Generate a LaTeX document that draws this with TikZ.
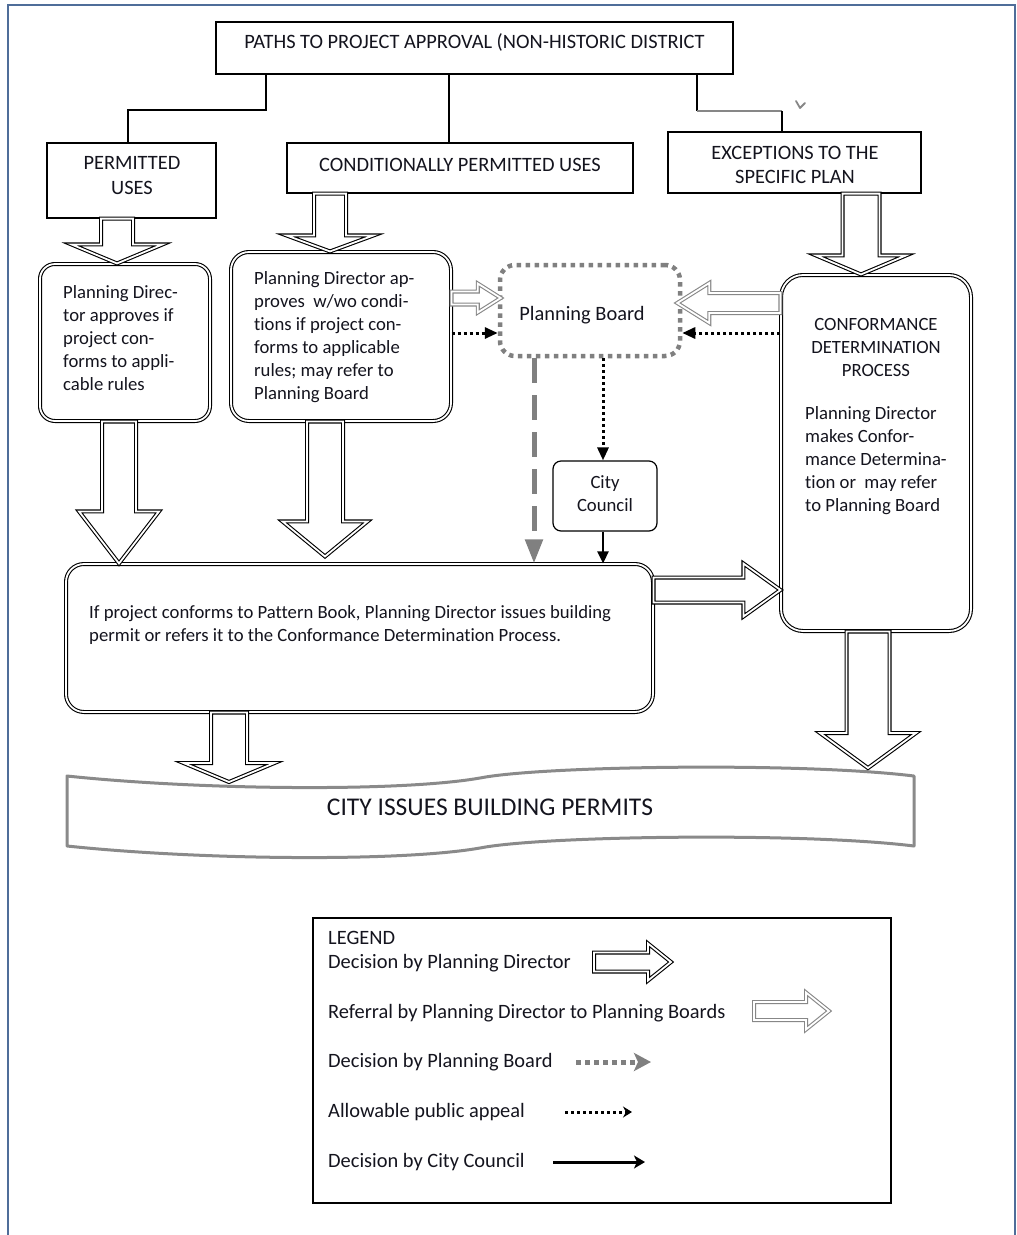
\documentclass[tikz,border=0pt]{standalone}
\usepackage{fontspec}
\setmainfont{Carlito}[Ligatures=NoCommon]
\usetikzlibrary{calc,arrows.meta}
\definecolor{framec}{RGB}{79,109,153}
\definecolor{pbgray}{RGB}{128,128,128}
\definecolor{refgray}{RGB}{135,135,135}
\definecolor{bangray}{RGB}{138,138,138}
\definecolor{txt}{RGB}{20,20,30}
\newcommand\fbody{\fontsize{18.7pt}{23pt}\selectfont}
\newcommand\fcap{\fontsize{20.4pt}{24.5pt}\selectfont}
\newcommand\fban{\fontsize{25.5pt}{30pt}\selectfont}
% vertical block arrow: style, start, tip, shaft half, head half, signed head length
\newcommand\barrowv[6]{\path[#1] let \p1=#2, \p2=#3 in
 (\x2-#4pt,\y1) -- (\x2-#4pt,\y2+#6pt) -- (\x2-#5pt,\y2+#6pt) -- (\x2,\y2) -- (\x2+#5pt,\y2+#6pt) -- (\x2+#4pt,\y2+#6pt) -- (\x2+#4pt,\y1) -- cycle;}
% horizontal block arrow: style, start, tip, shaft half, head half, signed head length (+ = right)
\newcommand\barrowh[6]{\path[#1] let \p1=#2, \p2=#3 in
 (\x1,\y2+#4pt) -- (\x2-#6*1pt,\y2+#4pt) -- (\x2-#6*1pt,\y2+#5pt) -- (\x2,\y2) -- (\x2-#6*1pt,\y2-#5pt) -- (\x2-#6*1pt,\y2-#4pt) -- (\x1,\y2-#4pt) -- cycle;}
\begin{document}
\begin{tikzpicture}[x=1pt,y=-1pt,
  every node/.style={inner sep=0pt, text=txt},
  sq/.style={draw=black, line width=1.2pt, fill=white},
  conn/.style={draw=black, line width=1.2pt},
  dbl/.style={draw=black, line width=1.1pt, double=white, double distance=1.8pt},
  dblbox/.style={dbl, fill=white},
  barrow/.style={dbl, fill=white, line join=miter, miter limit=10},
  garrow/.style={draw=refgray, line width=1.1pt, double=white, double distance=1.8pt, fill=white, line join=miter, miter limit=10},
  pbbox/.style={draw=pbgray, line width=4.5pt, dash pattern=on 4.5pt off 4.5pt, rounded corners=15pt},
  appeal/.style={draw=black, line width=3pt, dash pattern=on 3pt off 3pt, -{Triangle[length=13pt,width=11pt]}},
  pbdec/.style={draw=pbgray, line width=5pt, dash pattern=on 25pt off 12pt, -{Triangle[length=24pt,width=17pt]}},
  ccdec/.style={draw=black, line width=2.5pt, -{Triangle[length=12pt,width=11pt]}},
  lt/.style={font=\fcap, anchor=west}
]
\useasboundingbox (0,0) rectangle (1017,1235);
% outer frame
\draw[framec, line width=1.5pt] (8,1240) -- (8,5) -- (1015,5) -- (1015,1240);

% header boxes
\node[sq, minimum width=517pt, minimum height=52pt] (title) at (474.5,48) {};
\node[sq, minimum width=169pt, minimum height=75pt] (pu) at (131.5,180.5) {};
\node[sq, minimum width=346pt, minimum height=50pt] (cpu) at (460,168) {};
\node[sq, minimum width=253pt, minimum height=61pt] (exc) at (794.5,162.5) {};

% title connectors
\coordinate (k1) at (266,110);
\coordinate (k2) at (128,110);
\coordinate (k3) at (449,0);
\coordinate (k4) at (697,111);
\coordinate (k5) at (782,111);
\draw[conn] (title.south -| k1) -- (k1) -- (k2) -- (k2 |- pu.north);
\draw[conn] (title.south -| k3) -- (cpu.north -| k3);
\draw[conn] (title.south -| k4) -- (k4);
\draw[conn, draw=refgray] (k4) -- (k5);
\draw[conn] (k5) -- (k5 |- exc.north);
\draw[refgray, line width=1.8pt, line cap=round, line join=round] (796,101) -- (800,108) -- (805,103);

% main boxes
\node[dblbox, rounded corners=15pt, minimum width=170pt, minimum height=157pt] (pd1) at (125,342.5) {};
\node[dblbox, rounded corners=18pt, minimum width=220pt, minimum height=169pt] (pd2) at (341,336.5) {};
\node[pbbox, minimum width=180pt, minimum height=91pt] (pb) at (590,310.5) {};
\node[sq, rounded corners=8pt, minimum width=104pt, minimum height=70pt] (cc) at (605,496) {};
\node[dblbox, rounded corners=18pt, minimum width=587pt, minimum height=148pt] (big) at (359.5,638) {};
\node[dblbox, rounded corners=22pt, minimum width=190pt, minimum height=356pt] (cdp) at (876,453) {};

% banner
\draw[bangray, line width=3pt, fill=white, line join=round]
  (67,776) .. controls (200,790) and (400,792) .. (480,778)
  .. controls (540,766) and (800,762) .. (914,776) -- (914,846)
  .. controls (800,832) and (540,836) .. (480,848)
  .. controls (400,862) and (200,860) .. (67,846) -- cycle;
\coordinate (ban1) at (229,782);
\coordinate (ban2) at (868,768);

% block arrows (decision by planning director)
\coordinate (a1s) at ([xshift=-14.5pt]pu.south);
\coordinate (a1t) at (a1s |- pd1.north);
\barrowv{barrow}{(a1s)}{(a1t)}{16}{45.5}{19}
\coordinate (a2s) at ([xshift=-130pt]cpu.south);
\coordinate (a2t) at (a2s |- pd2.north);
\barrowv{barrow}{(a2s)}{(a2t)}{16}{43.5}{16}
\coordinate (a3s) at ([xshift=66.5pt]exc.south);
\coordinate (a3t) at (a3s |- cdp.north);
\barrowv{barrow}{(a3s)}{(a3t)}{18.5}{45}{19}
\coordinate (a4s) at ([xshift=-6pt]pd1.south);
\coordinate (a4t) at (a4s |- big.north);
\barrowv{barrow}{(a4s)}{(a4t)}{17}{40}{52}
\coordinate (a5s) at ([xshift=-16pt]pd2.south);
\coordinate (a5t) at ([yshift=7pt]a5s |- big.north);
\barrowv{barrow}{(a5s)}{(a5t)}{18}{42.5}{35}
\coordinate (a6s) at ([yshift=48pt]big.east);
\coordinate (a6t) at (a6s -| cdp.west);
\barrowh{barrow}{(a6s)}{(a6t)}{12.5}{26.5}{37}
\coordinate (a7s) at ([xshift=-130.5pt]big.south);
\barrowv{barrow}{(a7s)}{(ban1)}{18}{45.5}{19}
\coordinate (a8s) at ([xshift=-8pt]cdp.south);
\barrowv{barrow}{(a8s)}{(ban2)}{21.5}{48}{35}

% referral arrows
\coordinate (r1s) at ([yshift=38.5pt]pd2.east);
\coordinate (r1t) at ([xshift=3pt]r1s -| pb.west);
\barrowh{garrow}{(r1s)}{(r1t)}{6.5}{14.5}{23}
\coordinate (r2s) at ([yshift=150pt]cdp.west);
\coordinate (r2t) at ([xshift=-5pt]r2s -| pb.east);
\barrowh{garrow}{(r2s)}{(r2t)}{10}{20}{-32}

% appeal, planning board and council arrows
\coordinate (y333) at (0,333);
\coordinate (x603) at (603,0);
\coordinate (x534) at (534,0);
\draw[appeal] (pd2.east |- y333) -- (pb.west |- y333);
\draw[appeal] (cdp.west |- y333) -- (pb.east |- y333);
\draw[appeal] (pb.south -| x603) -- (cc.north -| x603);
\draw[ccdec] (cc.south -| x603) -- (big.north -| x603);
\draw[pbdec] (pb.south -| x534) -- (big.north -| x534);

% texts
\node[font=\fcap] (titlet) at (474.5,42.5) {PATHS TO PROJECT APPROVAL (NON-HISTORIC DISTRICT};
\node[font=\fcap, align=center] (put) at (132,175.5) {PERMITTED\\USES};
\node[font=\fcap] (cput) at (460,165) {CONDITIONALLY PERMITTED USES};
\node[font=\fcap, align=center] (exct) at (795,165) {EXCEPTIONS TO THE\\SPECIFIC PLAN};
\node[font=\fbody, align=left, anchor=west] (pd1t) at (63,338) {Planning Direc-\\tor approves if\\project con-\\forms to appli-\\cable rules};
\node[font=\fbody, align=left, anchor=west] (pd2t) at (254,337) {Planning Director ap-\\proves~ w/wo condi-\\tions if project con-\\forms to applicable\\rules; may refer to\\Planning Board};
\node[font=\fcap] (pbt) at (582,315) {Planning Board};
\node[font=\fbody, align=center] (cct) at (605,494) {City\\Council};
\node[font=\fbody, align=left, anchor=west] (bigt) at (89,625.5) {If project conforms to Pattern Book, Planning Director issues building\\permit or refers it to the Conformance Determination Process.};
\node[font=\fbody, align=center] (cdph) at (876,347.5) {CONFORMANCE\\DETERMINATION\\PROCESS};
\node[font=\fbody, align=left, anchor=west] (cdpb) at (805,461) {Planning Director\\makes Confor-\\mance Determina-\\tion or~ may refer\\to Planning Board};
\node[font=\fban] (bant) at (490,807) {CITY ISSUES BUILDING PERMITS};

% legend
\node[draw=black, line width=2pt, minimum width=578pt, minimum height=285pt] (leg) at (602,1060.5) {};
\node[lt] (l0) at (328,938) {LEGEND};
\node[lt] (l1) at (328,963) {Decision by Planning Director};
\node[lt] (l2) at (328,1013) {Referral by Planning Director to Planning Boards};
\node[lt] (l3) at (328,1062) {Decision by Planning Board};
\node[lt] (l4) at (328,1112) {Allowable public appeal};
\node[lt] (l5) at (328,1162) {Decision by City Council};
\coordinate (lg1s) at (594,962);
\coordinate (lg1t) at (671,962);
\barrowh{barrow}{(lg1s)}{(lg1t)}{9.5}{18.5}{23}
\coordinate (lg2s) at (754,1011);
\coordinate (lg2t) at (829,1011);
\barrowh{garrow}{(lg2s)}{(lg2t)}{9}{18.5}{23}
\coordinate (lg3s) at (576,1062);
\coordinate (lg3t) at (651,1062);
\draw[draw=pbgray, line width=5pt, dash pattern=on 5pt off 4pt, -{Stealth[length=17pt,width=18pt,inset=4pt]}] (lg3s) -- (lg3t);
\coordinate (lg4s) at (565,1112);
\coordinate (lg4t) at (632,1112);
\draw[draw=black, line width=3pt, dash pattern=on 3pt off 3pt, -{Stealth[length=9pt,width=11pt,inset=3pt]}] (lg4s) -- (lg4t);
\coordinate (lg5s) at (553,1162);
\coordinate (lg5t) at (645,1162);
\draw[draw=black, line width=3pt, -{Stealth[length=11pt,width=13pt,inset=3pt]}] (lg5s) -- (lg5t);
\end{tikzpicture}
\end{document}
